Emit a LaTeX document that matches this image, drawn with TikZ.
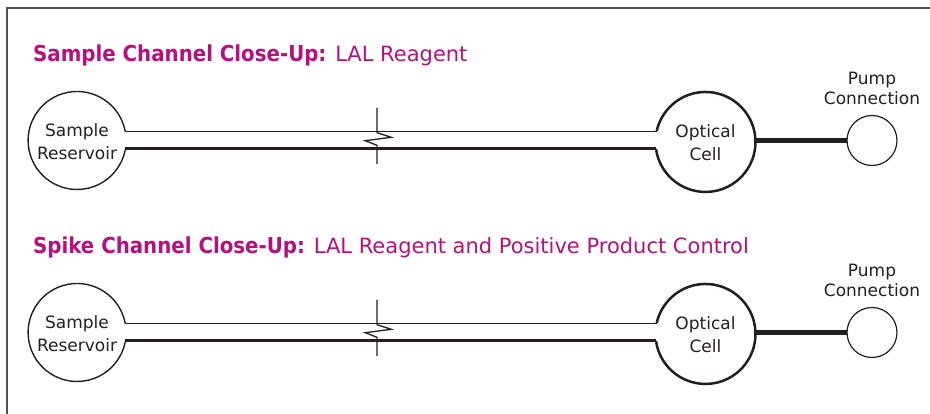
\documentclass[tikz,border=0pt]{standalone}
\usepackage{fontspec}
\setmainfont{DejaVu Sans}
\newfontfamily\headbold{DejaVu Sans Condensed}
\definecolor{titlemag}{RGB}{182,16,126}
\definecolor{ink}{RGB}{35,31,32}
\definecolor{framegray}{RGB}{80,80,80}
\newcommand\headlead[1]{{\headbold\bfseries\fontsize{22}{25}\selectfont #1}}
\begin{document}
\begin{tikzpicture}[x=1pt,y=1pt,
  hole/.style={circle,inner sep=0pt,outer sep=0pt,draw=none,minimum size=#1},
  lbl/.style={align=center,text=ink,font=\fontsize{17}{23}\selectfont},
  pumplbl/.style={align=center,text=ink,font=\fontsize{17}{20.5}\selectfont},
  titletext/.style={anchor=base west,inner sep=0pt,text=titlemag,font=\fontsize{21}{25}\selectfont},
  thinwall/.style={line width=1.2pt,ink},
  thickwall/.style={line width=3pt,ink},
  pumpline/.style={line width=5pt,ink},
  breakmark/.style={line width=1.3pt,ink,line join=miter}]
\useasboundingbox (0,0) rectangle (930,414);
% frame on the top and left edges
\draw[framegray,line width=1.5pt] (7,0) -- (7,406) -- (930,406);

% headings
\node[titletext] (t1) at (33,352) {\headlead{Sample Channel Close-Up:} LAL Reagent};
\node[titletext] (t2) at (33,160) {\headlead{Spike Channel Close-Up:} LAL Reagent and Positive Product Control};

\foreach \k/\o in {1/0,2/192}{
  \begin{scope}[yshift=-\o pt]
    % reservoir, optical cell and pump port
    \node[hole=98pt] (res\k) at (77,274) {};
    \node[hole=100pt] (cell\k) at (705.5,272) {};
    \node[hole=50pt] (pump\k) at (872,273.5) {};
    \node[lbl] at ([yshift=-2pt]res\k) {Sample\\Reservoir};
    \node[lbl] at ([yshift=-1pt]cell\k) {Optical\\Cell};
    \node[pumplbl,anchor=south] at ([yshift=7pt]pump\k.north) {Pump\\Connection};
    % circle outlines, open where the channel enters
    \draw[line width=1.4pt,ink] (res\k.10.58) arc[start angle=10.58,end angle=349.42,radius=49];
    \draw[line width=2.5pt,ink] (cell\k.188.05) arc[start angle=188.05,end angle=527.29,radius=50];
    \draw[line width=1.2pt,ink] (pump\k) circle[radius=25];
    % channel walls
    \draw[thinwall] (res\k.10.58) -- (res\k.10.58 -| cell\k.167.29);
    \draw[thickwall] (res\k.-10.58) -- (res\k.-10.58 -| cell\k.188.05);
    % tubing to the pump
    \draw[pumpline] (pump\k.west) -- (pump\k.west -| cell\k.east);
    % break symbol across the channel
    \coordinate (bk\k) at (377,306);
    \draw[breakmark] (bk\k) -- ++(0,-24.7) -- ++(14.3,-4.6) -- ++(-26,-3.4) -- ++(11.7,-4.6) -- (377,250);
  \end{scope}
}
\end{tikzpicture}
\end{document}
